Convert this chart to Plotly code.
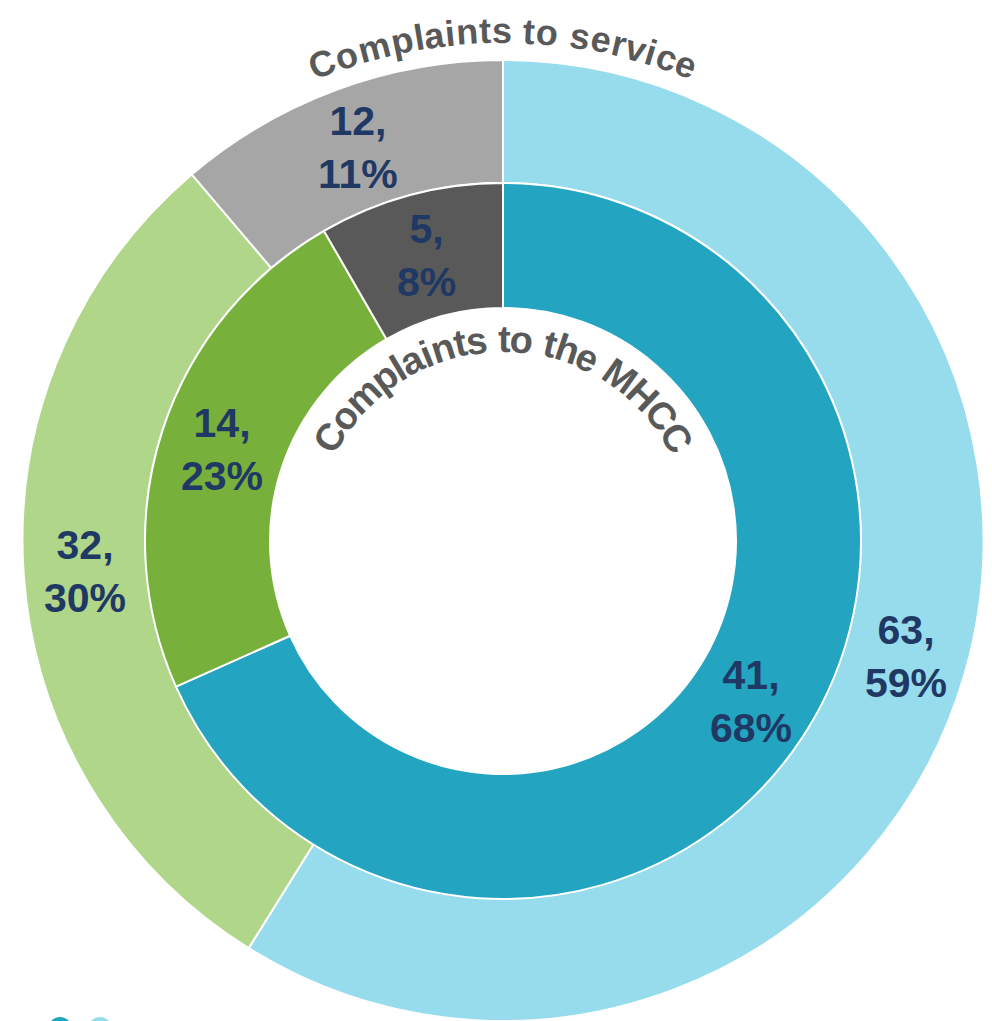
import math
import plotly.graph_objects as go

# ---- data ----
outer_labels = ["Outer A", "Outer B", "Outer C"]
outer_values = [63, 32, 12]
inner_labels = ["Inner A", "Inner B", "Inner C"]
inner_values = [41, 14, 5]
outer_title = "Complaints to service"
inner_title = "Complaints to the MHCC"

# ---- style ----
OFF = 8                    # page body margin
W, H = 992 - OFF, 1021 - OFF
CX, CY = 503 - OFF, 541 - OFF   # pixel centre inside the figure
R_OUT, R_MID, R_HOLE = 481, 358, 233
outer_colors = ["#97DCEC", "#AFD689", "#A6A6A6"]
inner_colors = ["#23A4C0", "#77B03B", "#595959"]
label_color = "#1F3864"
title_color = "#595959"
FONT = "Liberation Sans"
LABEL_SIZE = 41

def px_dom_x(a, b):
    return [max(0, a / W), min(1, b / W)]

def px_dom_y(top, bottom):
    return [max(0, 1 - bottom / H), min(1, 1 - top / H)]

fig = go.Figure()
fig.add_trace(go.Pie(
    labels=outer_labels, values=outer_values, sort=False, direction="clockwise",
    rotation=0, hole=R_MID / R_OUT,
    domain=dict(x=px_dom_x(CX - R_OUT, CX + R_OUT), y=px_dom_y(CY - R_OUT, CY + R_OUT)),
    marker=dict(colors=outer_colors, line=dict(color="white", width=2)),
    textinfo="none", hoverinfo="label+value+percent", showlegend=False,
))
fig.add_trace(go.Pie(
    labels=inner_labels, values=inner_values, sort=False, direction="clockwise",
    rotation=0, hole=R_HOLE / R_MID,
    domain=dict(x=px_dom_x(CX - R_MID, CX + R_MID), y=px_dom_y(CY - R_MID, CY + R_MID)),
    marker=dict(colors=inner_colors, line=dict(color="white", width=2)),
    textinfo="none", hoverinfo="label+value+percent", showlegend=False,
))

annotations = []

# value / percent labels at the middle of each ring segment (from the data)
def ring_labels(values, r_in, r_out):
    total = sum(values)
    r = (r_in + r_out) / 2
    cum = 0
    out = []
    for v in values:
        mid = (cum + v / 2) / total * 2 * math.pi
        cum += v
        x = CX + r * math.sin(mid)
        y = CY - r * math.cos(mid)
        pct = round(100 * v / total)
        out.append(dict(
            x=x / W, y=1 - y / H, xref="paper", yref="paper",
            text=f"{v},<br>{pct}%", showarrow=False,
            xanchor="center", yanchor="middle", align="center",
            font=dict(family=FONT, size=LABEL_SIZE, color=label_color, weight="bold"),
        ))
    return out

annotations += ring_labels(outer_values, R_MID, R_OUT)
annotations += ring_labels(inner_values, R_HOLE, R_MID)

# Arial-bold advance widths (per 1000 em) for curved titles
WIDTHS = {"C": 722, "o": 611, "m": 889, "p": 611, "l": 278, "a": 556, "i": 278,
          "n": 611, "t": 333, "s": 556, " ": 278, "e": 556, "r": 389, "v": 556,
          "c": 556, "h": 611, "M": 833, "H": 722}

def curved_text(text, r_base, size, spacing=1.0):
    r = r_base + 0.32 * size
    widths = [WIDTHS.get(ch, 556) * size / 1000 * spacing for ch in text]
    total = sum(widths)
    cum = -total / 2
    anns = []
    for ch, w in zip(text, widths):
        s = cum + w / 2
        cum += w
        if ch == " ":
            continue
        th = s / r
        x = CX + r * math.sin(th)
        y = CY - r * math.cos(th)
        anns.append(dict(
            x=x / W, y=1 - y / H, xref="paper", yref="paper", text=ch,
            showarrow=False, xanchor="center", yanchor="middle",
            textangle=math.degrees(th), borderpad=0,
            font=dict(family=FONT, size=size, color=title_color, weight="bold"),
        ))
    return anns

annotations += curved_text(outer_title, 499, 36, 1.06) + curved_text(inner_title, 190, 38, 1.0)

# partial legend markers at the bottom edge
shapes = []
for xc, col in [(60 - OFF, inner_colors[0]), (100 - OFF, outer_colors[0])]:
    shapes.append(dict(type="circle", xref="paper", yref="paper",
                       x0=(xc - 12) / W, x1=(xc + 12) / W,
                       y0=1 - (1041 - OFF) / H, y1=1 - (1017 - OFF) / H,
                       fillcolor=col, line=dict(width=0)))

fig.update_layout(
    width=W, height=H, margin=dict(l=0, r=0, t=0, b=0),
    paper_bgcolor="white", plot_bgcolor="white", showlegend=False,
    annotations=annotations, shapes=shapes,
)
fig.write_html("out.html")
